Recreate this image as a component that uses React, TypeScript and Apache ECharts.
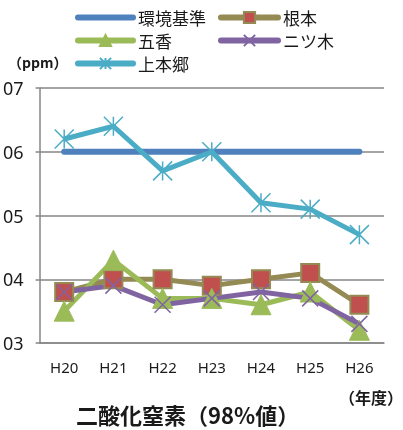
import React, { useEffect, useRef } from "react";
import * as echarts from "echarts";

const categories = ["H20", "H21", "H22", "H23", "H24", "H25", "H26"];
const standard = [0.06, 0.06, 0.06, 0.06, 0.06, 0.06, 0.06];
const nemoto = [0.038, 0.04, 0.04, 0.039, 0.04, 0.041, 0.036];
const gokou = [0.035, 0.043, 0.037, 0.037, 0.036, 0.038, 0.032];
const futatsugi = [0.038, 0.039, 0.036, 0.037, 0.038, 0.037, 0.033];
const kamihongou = [0.062, 0.064, 0.057, 0.06, 0.052, 0.051, 0.047];

const FONT = "'Noto Sans CJK JP', 'Noto Sans', sans-serif";
const NUM_FONT = "'Noto Sans', 'Liberation Sans', sans-serif";
const CROSS = "path://M0,0L10,10M10,0L0,10";
const STAR = "path://M5,0L5,10M0,0L10,10M10,0L0,10";

export default function App() {
  const ref = useRef<HTMLDivElement>(null);

  useEffect(() => {
    if (!ref.current) return;
    const chart = echarts.init(ref.current, null, { renderer: "svg" });
    const legendText = { color: "#1a1a1a", fontSize: 17, lineHeight: 19, fontFamily: FONT };
    const legendLine = { width: 6, cap: "round" };
    chart.setOption({
      animation: false,
      grid: { left: 37, top: 88, right: 19, bottom: 87 },
      legend: [
        {
          orient: "vertical",
          left: 75,
          top: 8,
          padding: 0,
          itemWidth: 55,
          itemHeight: 14,
          itemGap: 4,
          lineStyle: legendLine,
          textStyle: legendText,
          data: [
            { name: "環境基準", itemStyle: { color: "rgba(0,0,0,0)", borderWidth: 0 } },
            "五香",
            "上本郷",
          ],
        },
        {
          orient: "vertical",
          left: 218,
          top: 8,
          padding: 0,
          itemWidth: 57,
          itemHeight: 14,
          itemGap: 4,
          lineStyle: legendLine,
          textStyle: legendText,
          data: ["根本", "ニツ木"],
        },
      ],
      xAxis: {
        type: "category",
        data: categories,
        boundaryGap: true,
        axisLine: { lineStyle: { color: "#868686", width: 1.5 } },
        axisTick: { show: false },
        axisLabel: { color: "#1a1a1a", fontSize: 15, margin: 16, fontFamily: NUM_FONT },
      },
      yAxis: {
        type: "value",
        min: 0.03,
        max: 0.07,
        interval: 0.01,
        axisLine: { show: true, lineStyle: { color: "#868686", width: 1.5 } },
        axisTick: { show: true, length: 4, lineStyle: { color: "#868686", width: 1.5 } },
        splitLine: { lineStyle: { color: "#868686", width: 1.5 } },
        axisLabel: {
          color: "#1a1a1a",
          fontSize: 18,
          margin: 16,
          fontFamily: NUM_FONT,
          formatter: (v: number) => v.toFixed(2).slice(2),
        },
      },
      series: [
        {
          name: "環境基準",
          type: "line",
          data: standard,
          symbol: "none",
          lineStyle: { color: "#4F81BD", width: 6, cap: "round" },
          itemStyle: { color: "#4F81BD" },
        },
        {
          name: "根本",
          type: "line",
          data: nemoto,
          symbol: "rect",
          symbolSize: 18,
          lineStyle: { color: "#948A54", width: 5 },
          itemStyle: { color: "#C0504D", borderColor: "#948A54", borderWidth: 2 },
        },
        {
          name: "五香",
          type: "line",
          data: gokou,
          symbol: "triangle",
          symbolSize: 20,
          lineStyle: { color: "#9BBB59", width: 5 },
          itemStyle: { color: "#9BBB59", borderColor: "#9BBB59", borderWidth: 1 },
        },
        {
          name: "ニツ木",
          type: "line",
          data: futatsugi,
          symbol: CROSS,
          symbolSize: 16,
          lineStyle: { color: "#8064A2", width: 5 },
          itemStyle: { color: "#8064A2", borderColor: "#8064A2", borderWidth: 1.5 },
        },
        {
          name: "上本郷",
          type: "line",
          data: kamihongou,
          symbol: STAR,
          symbolSize: 19,
          lineStyle: { color: "#4BACC6", width: 5 },
          itemStyle: { color: "#4BACC6", borderColor: "#4BACC6", borderWidth: 1.5 },
        },
      ],
      graphic: [
        {
          type: "text",
          left: 8,
          top: 55,
          style: { text: "（ppm）", font: `bold 14px ${FONT}`, fill: "#1a1a1a" },
        },
        {
          type: "text",
          right: 0,
          top: 389,
          style: { text: "（年度）", font: `bold 16px ${FONT}`, fill: "#1a1a1a" },
        },
        {
          type: "text",
          left: 76,
          top: 403,
          style: { text: "二酸化窒素（98%値）", font: `bold 22px ${FONT}`, fill: "#1a1a1a" },
        },
      ],
    });
    return () => chart.dispose();
  }, []);

  return (
    <div
      ref={ref}
      style={{ position: "fixed", left: 0, top: 0, width: 403, height: 430 }}
    />
  );
}
